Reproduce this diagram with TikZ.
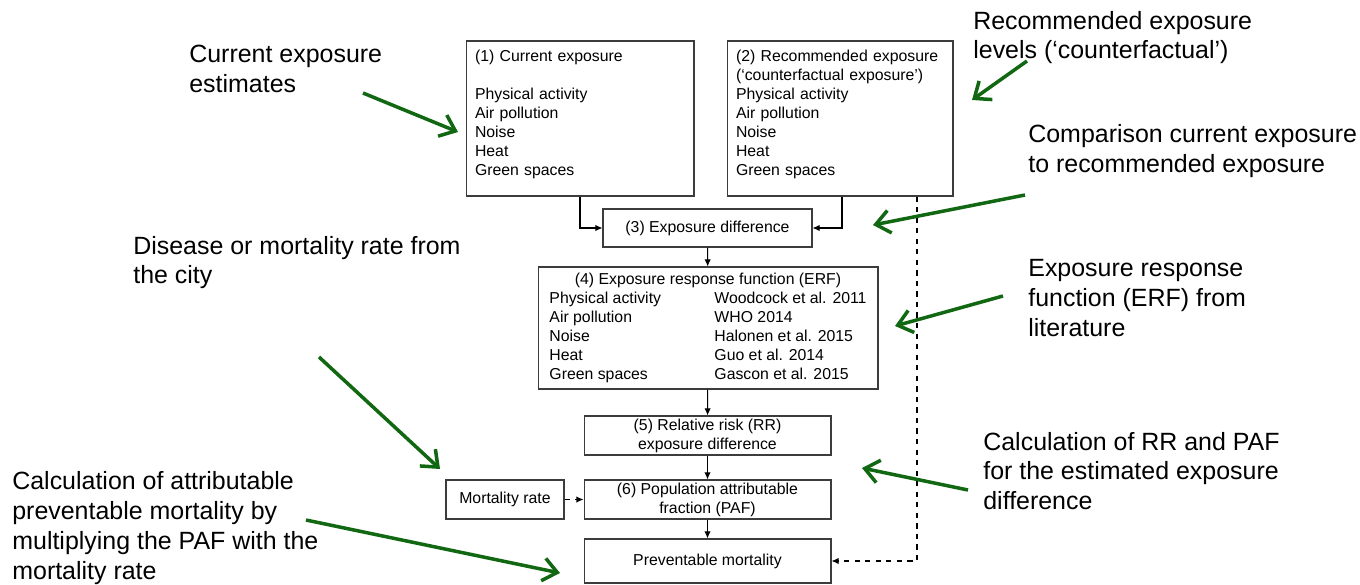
\documentclass[tikz,border=0pt]{standalone}
\usepackage{fontspec}
\setmainfont{Liberation Sans}
\usepackage{xcolor}
\usetikzlibrary{arrows.meta,calc}
\definecolor{hintgreen}{RGB}{18,104,18}
\definecolor{boxline}{RGB}{60,60,60}

\tikzset{
  stepbox/.style={draw=boxline,line width=0.6pt,inner sep=0pt,
    font=\fontsize{9}{10.8}\selectfont},
  listbox/.style={stepbox,align=left,inner xsep=0.18cm,text width=4.2cm,
    minimum height=3.1cm},
  flow/.style={black,line width=0.6pt,-{Latex[length=4pt,width=3.6pt]}},
  hint/.style={hintgreen,line width=2pt,-{Straight Barb[length=8pt,width=13pt,line width=2pt]}},
  note/.style={anchor=west,align=left,inner sep=0pt,
    font=\fontsize{14.2}{17}\selectfont}
}

\begin{document}
\begin{tikzpicture}[x=0.02cm,y=-0.02cm]
    \useasboundingbox (0,0) rectangle (1360,585);
    % exposure boxes
    \node[listbox] (cur) at (580,118.5) {(1) Current exposure\\[0.38cm]
      Physical activity\\Air pollution\\Noise\\Heat\\Green spaces\\[-0.14cm]\mbox{}};
    \node[listbox,text width=4.16cm] (rec) at (840,118.5) {(2) Recommended exposure\\
      (‘counterfactual exposure’)\\Physical activity\\Air pollution\\Noise\\Heat\\Green spaces\\[-0.14cm]\mbox{}};
    \node[stepbox,minimum width=4.18cm,minimum height=0.76cm] (diff) at (707.5,228)
      {(3) Exposure difference};
    \node[stepbox,minimum width=6.8cm,minimum height=2.44cm] (erf) at (708,328) {%
      \begin{tabular}{@{}p{3.3cm}@{}l@{}}
        \multicolumn{2}{c}{(4) Exposure response function (ERF)}\\
        Physical activity & Woodcock et al. 2011\\
        Air pollution & WHO 2014\\
        Noise & Halonen et al. 2015\\
        Heat & Guo et al. 2014\\
        Green spaces & Gascon et al. 2015
      \end{tabular}};
    \node[stepbox,align=center,minimum width=4.94cm,minimum height=0.78cm] (rr) at (707.5,435.5)
      {(5) Relative risk (RR)\\exposure difference};
    \node[stepbox,align=center,minimum width=4.94cm,minimum height=0.78cm] (paf) at (707.5,499.5)
      {(6) Population attributable\\fraction (PAF)};
    \node[stepbox,minimum width=2.36cm,minimum height=0.78cm] (mort) at (505,499.5)
      {Mortality rate};
    \node[stepbox,minimum width=4.94cm,minimum height=0.88cm] (prev) at (707.5,561)
      {Preventable mortality};

    % flow
    \draw[flow] (cur.south) |- (diff.west);
    \draw[flow] ([xshift=0.04cm]rec.south) |- (diff.east);
    \draw[flow] (diff) -- (erf);
    \draw[flow] (erf) -- (rr);
    \draw[flow] (rr) -- (paf);
    \draw[flow] (paf) -- (prev);
    \draw[flow,dashed] (mort) -- (paf);
    \draw[flow,dashed] ([xshift=1.54cm]rec.south) |- (prev.east);

    % annotations
    \foreach \n/\x/\y/\txt in {
      nCur/189/69/{Current exposure\\estimates},
      nRec/973/37.5/{Recommended exposure\\levels (‘counterfactual’)},
      nCmp/1028/151/{Comparison current exposure\\to recommended exposure},
      nDis/133/262.5/{Disease or mortality rate from\\the city},
      nErf/1028/298/{Exposure response\\function (ERF) from\\literature},
      nRR/983/471/{Calculation of RR and PAF\\for the estimated exposure\\difference},
      nAtt/12/528/{Calculation of attributable\\preventable mortality by\\multiplying the PAF with the\\mortality rate}}{
      \node[note] (\n) at (\x,\y) {\txt};
    }
    \foreach \n/\sx/\sy/\ex/\ey in {
      1/363/93/458/132,
      2/1027/61/972/100,
      3/1025/195/873/225,
      4/1003/296/895/326,
      5/319/357/440/469,
      6/968/490/862/468,
      7/306/520/560/573}{
      \coordinate (hs\n) at (\sx,\sy);
      \coordinate (he\n) at (\ex,\ey);
      \draw[hint] (hs\n) -- (he\n);
    }
  \end{tikzpicture}
\end{document}
